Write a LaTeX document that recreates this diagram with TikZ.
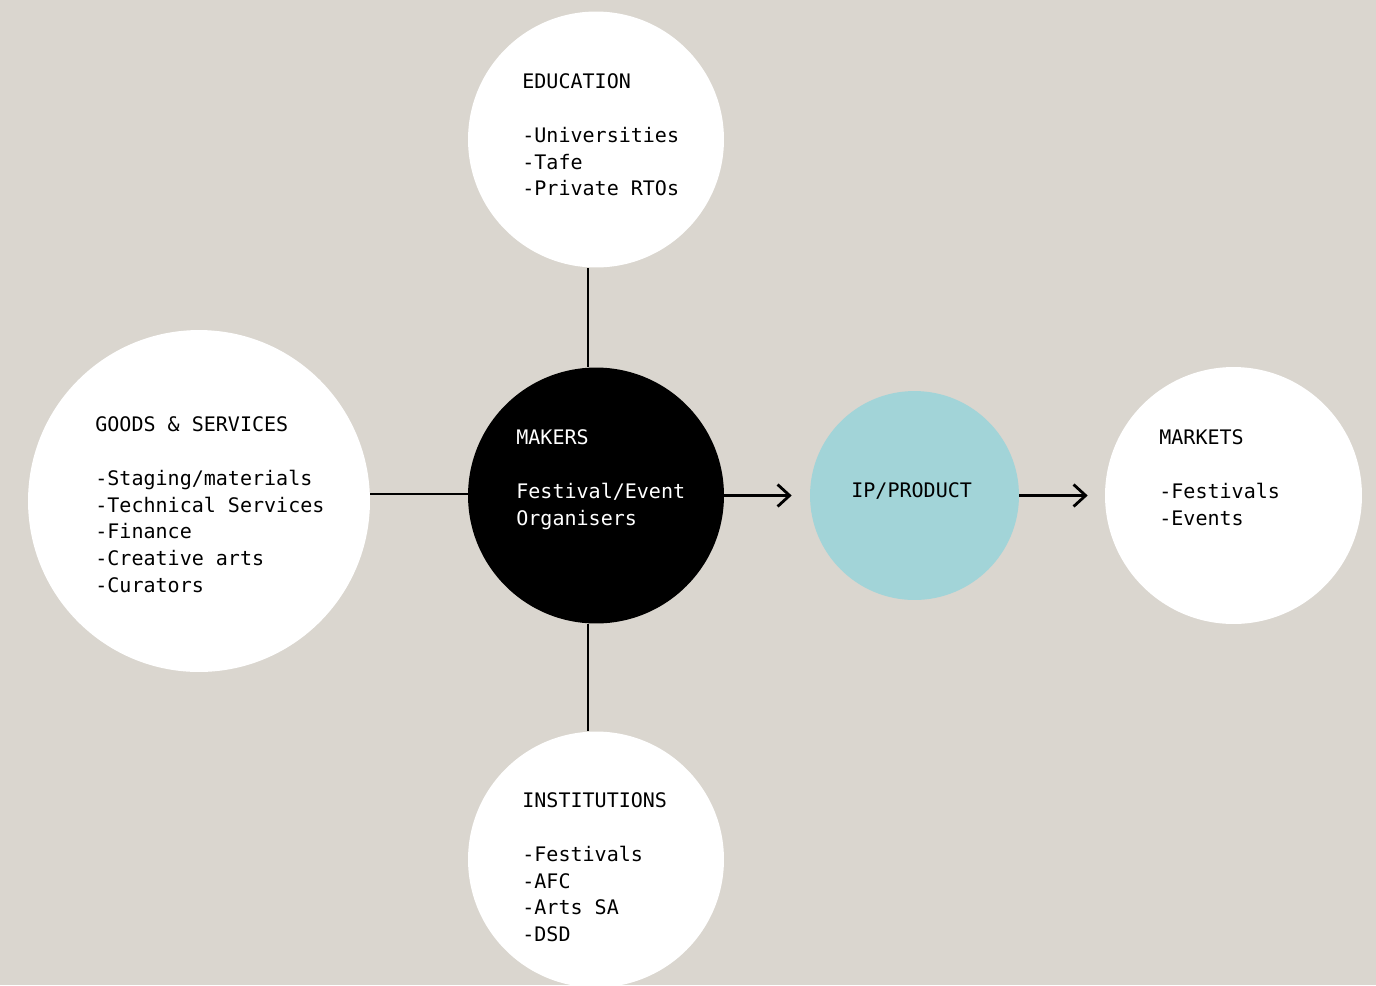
\documentclass[tikz,border=0pt]{standalone}
\usepackage{fontspec}
\setmonofont{DejaVu Sans Mono}
\usetikzlibrary{arrows.meta,calc}
\definecolor{paper}{RGB}{218,214,207}
\definecolor{ipblue}{RGB}{162,212,216}

\begin{document}
\begin{tikzpicture}[x=0.02cm,y=-0.02cm,
  blob/.style={circle,fill=white,inner sep=0pt},
  txt/.style={anchor=base west,align=left,inner sep=0pt,font=\ttfamily\fontsize{11.4}{15.2}\selectfont},
  link/.style={line width=1.6pt},
  arr/.style={link,-{Straight Barb[length=0.24cm,width=0.44cm]}}]
\useasboundingbox (0,0) rectangle (1376,985);
\fill[paper] (0,0) rectangle (1376,985);
\node[blob,minimum size=5.12cm] (edu) at (596,139.5) {};
\node[blob,minimum size=6.84cm] (goods) at (199,501) {};
\node[blob,fill=black,minimum size=5.12cm] (mak) at (596,495.5) {};
\node[blob,fill=ipblue,minimum size=4.18cm] (ip) at (914.5,495.5) {};
\node[blob,minimum size=5.14cm] (mkt) at (1233.5,495.5) {};
\node[blob,minimum size=5.12cm] (inst) at (596,859.5) {};
\draw[link] ($(edu.south)+(-8,0)$) -- ($(mak.north)+(-8,0)$);
\draw[link] ($(mak.south)+(-8,0)$) -- ($(inst.north)+(-8,0)$);
\draw[link] ($(goods.east)+(0,-7)$) coordinate (g) -- (g -| mak.west);
\draw[arr] (mak.east) -- ($(ip.west)+(-18,0)$);
\draw[arr] (ip.east) -- ($(mkt.west)+(-17,0)$);
% anchors sit on the last line of each text
\node[txt] (edut) at (522,195.8) {EDUCATION\\[15.2pt]-Universities\\-Tafe\\-Private RTOs};
\node[txt] (goodst) at (95,592.2) {GOODS \& SERVICES\\[15.2pt]-Staging/materials\\-Technical Services\\-Finance\\-Creative arts\\-Curators};
\node[txt,text=white] (makt) at (516,525.1) {MAKERS\\[15.2pt]Festival/Event\\Organisers};
\node[txt] (ipt) at (851,497) {IP/PRODUCT};
\node[txt] (mktt) at (1159,525.1) {MARKETS\\[15.2pt]-Festivals\\-Events};
\node[txt] (instt) at (522,941.5) {INSTITUTIONS\\[15.2pt]-Festivals\\-AFC\\-Arts SA\\-DSD};
\end{tikzpicture}
\end{document}
